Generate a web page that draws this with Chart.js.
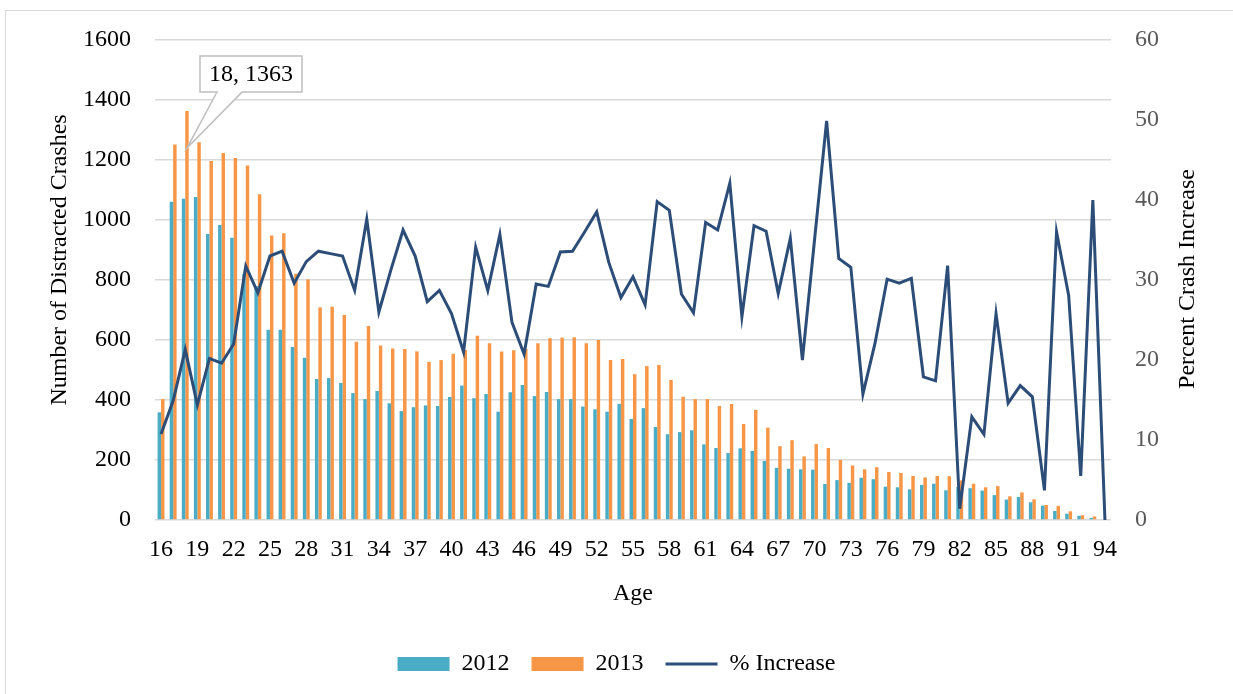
<!DOCTYPE html>
<html>
<head>
<meta charset="utf-8">
<script src="https://cdn.jsdelivr.net/npm/chart.js@4.4.1/dist/chart.umd.min.js"></script>
<style>
  html, body { margin: 0; padding: 0; background: #ffffff; overflow: hidden; }
  #wrap { position: relative; width: 1233px; height: 694px; }
  #frame { position: absolute; left: 5px; top: 10px; width: 1260px; height: 720px; border: 1px solid #d9d9d9; pointer-events: none; }
  canvas { position: absolute; left: 0; top: 0; }
</style>
</head>
<body>
<div id="wrap">
  <canvas id="c" width="1233" height="694"></canvas>
  <div id="frame"></div>
</div>
<script>
const ages = [16,17,18,19,20,21,22,23,24,25,26,27,28,29,30,31,32,33,34,35,36,37,38,39,40,41,42,43,44,45,46,47,48,49,50,51,52,53,54,55,56,57,58,59,60,61,62,63,64,65,66,67,68,69,70,71,72,73,74,75,76,77,78,79,80,81,82,83,84,85,86,87,88,89,90,91,92,93,94];

const crashes2012 = [359,1061,1071,1077,953,983,941,820,780,634,634,577,541,470,473,457,423,403,430,389,363,376,382,380,410,448,406,420,361,426,450,413,427,403,403,378,369,361,387,337,373,310,286,293,299,252,240,223,239,230,197,174,171,169,168,120,133,124,141,136,111,109,102,117,121,99,110,106,98,83,68,77,59,48,30,21,14,7,0];

const crashes2013 = [403,1252,1363,1259,1197,1223,1207,1182,1086,948,956,821,802,709,711,683,594,647,582,572,570,562,527,533,554,567,614,589,562,566,570,589,606,608,609,589,600,533,537,486,513,517,467,411,403,403,380,387,320,367,308,246,266,212,253,240,200,182,169,176,160,157,147,142,147,146,132,121,109,113,79,92,69,50,47,29,16,12,0];

const pctIncrease = [10.75,14.9,21.3,14.4,20.2,19.6,22.0,31.75,28.4,33.0,33.6,29.6,32.3,33.6,33.3,33.0,28.7,37.6,26.0,31.3,36.25,33.0,27.3,28.7,25.8,21.0,34.1,28.7,35.7,24.7,20.75,29.5,29.2,33.5,33.6,36.0,38.5,32.2,27.8,30.4,26.9,39.8,38.7,28.25,25.9,37.2,36.25,42.1,25.4,36.8,36.1,28.3,35.2,20.0,35.0,49.9,32.7,31.6,15.75,22.1,30.1,29.6,30.2,17.9,17.4,31.8,1.4,12.9,10.7,25.8,14.6,16.8,15.4,3.7,36.0,28.1,5.5,40.0,0];

const shownAgeTicks = [16,19,22,25,28,31,34,37,40,43,46,49,52,55,58,61,64,67,70,73,76,79,82,85,88,91,94];
const leftTicks = [0,200,400,600,800,1000,1200,1400,1600];
const rightTicks = [0,10,20,30,40,50,60];

const seriesNames = ['2012', '2013', '% Increase'];
const leftTitle = 'Number of Distracted Crashes';
const rightTitle = 'Percent Crash Increase';
const xTitle = 'Age';
const calloutAge = 18;
const calloutText = '18, 1363';

const FONT = "'Liberation Serif', 'Times New Roman', serif";
Chart.defaults.font.family = FONT;
Chart.defaults.font.size = 24;
Chart.defaults.color = '#000000';

const extraText = {
  id: 'extraText',
  afterDatasetsDraw(chart) {
    const ctx = chart.ctx;
    const idx = ages.indexOf(calloutAge);
    const el = chart.getDatasetMeta(1).data[idx];
    const tipX = el.x, tipY = el.y + 37;
    const bl = tipX + 13, bt = tipY - 92, br = tipX + 115, bb = tipY - 56;
    ctx.save();
    ctx.beginPath();
    ctx.moveTo(bl, bt);
    ctx.lineTo(br, bt);
    ctx.lineTo(br, bb);
    ctx.lineTo(tipX + 55, bb);
    ctx.lineTo(tipX, tipY);
    ctx.lineTo(tipX + 30, bb);
    ctx.lineTo(bl, bb);
    ctx.closePath();
    ctx.fillStyle = '#ffffff';
    ctx.fill();
    ctx.strokeStyle = '#bfbfbf';
    ctx.lineWidth = 1.5;
    ctx.stroke();
    ctx.fillStyle = '#000000';
    ctx.font = '24px ' + FONT;
    ctx.textAlign = 'center';
    ctx.textBaseline = 'middle';
    ctx.fillText(calloutText, (bl + br) / 2, (bt + bb) / 2 + 1);
    ctx.restore();
  },
  afterDraw(chart) {
    const ctx = chart.ctx;
    ctx.save();
    ctx.font = '24px ' + FONT;
    ctx.fillStyle = '#000000';
    ctx.textAlign = 'center';
    ctx.textBaseline = 'middle';
    ctx.translate(60, 260);
    ctx.rotate(-Math.PI / 2);
    ctx.fillText(leftTitle, 0, 0);
    ctx.restore();
    ctx.save();
    ctx.font = '24px ' + FONT;
    ctx.fillStyle = '#000000';
    ctx.textAlign = 'center';
    ctx.textBaseline = 'middle';
    ctx.translate(1188, 279);
    ctx.rotate(-Math.PI / 2);
    ctx.fillText(rightTitle, 0, 0);
    ctx.restore();
  }
};

new Chart(document.getElementById('c'), {
  data: {
    labels: ages,
    datasets: [
      { type: 'bar', label: seriesNames[0], data: crashes2012, backgroundColor: '#4bacc6', yAxisID: 'y', order: 1, pointStyle: 'rect',
        barPercentage: 1.0, categoryPercentage: 0.57 },
      { type: 'bar', label: seriesNames[1], data: crashes2013, backgroundColor: '#f79646', yAxisID: 'y', order: 1, pointStyle: 'rect',
        barPercentage: 1.0, categoryPercentage: 0.57 },
      { type: 'line', label: seriesNames[2], data: pctIncrease, borderColor: '#2c4d78', backgroundColor: '#2c4d78', borderWidth: 3,
        pointRadius: 0, tension: 0, yAxisID: 'y1', order: 0, pointStyle: 'line' }
    ]
  },
  options: {
    responsive: false,
    animation: false,
    devicePixelRatio: 1,
    layout: { padding: { top: 40, left: 0, right: 0, bottom: 8 } },
    plugins: {
      tooltip: { enabled: false },
      legend: {
        position: 'bottom',
        labels: {
          usePointStyle: true,
          pointStyleWidth: 52,
          boxHeight: 14,
          padding: 22,
          color: '#000000',
          font: { size: 24, family: FONT },
          sort: (a, b) => a.datasetIndex - b.datasetIndex
        }
      }
    },
    scales: {
      x: {
        offset: true,
        grid: { display: false, drawTicks: false },
        border: { display: false },
        ticks: {
          autoSkip: false, maxRotation: 0, minRotation: 0, padding: 15, color: '#000000',
          font: { size: 24 },
          callback: function (v) { const a = ages[v]; return shownAgeTicks.includes(a) ? String(a) : ''; }
        },
        title: { display: true, text: xTitle, color: '#000000', font: { size: 24 }, padding: { top: 0, bottom: 22 } },
        afterFit: s => { s.height = 110; }
      },
      y: {
        position: 'left',
        min: 0, max: 1600,
        afterBuildTicks: s => { s.ticks = leftTicks.map(v => ({ value: v })); },
        grid: { color: '#d9d9d9', lineWidth: 1.5, drawTicks: false },
        border: { display: false },
        ticks: { padding: 24, color: '#000000', font: { size: 24 }, callback: v => String(v) },
        afterFit: s => { s.width = 155; }
      },
      y1: {
        position: 'right',
        min: 0, max: 60,
        afterBuildTicks: s => { s.ticks = rightTicks.map(v => ({ value: v })); },
        grid: { display: false, drawTicks: false },
        border: { display: false },
        ticks: { padding: 24, color: '#595959', font: { size: 24 }, callback: v => String(v) },
        afterFit: s => { s.width = 122; }
      }
    }
  },
  plugins: [extraText]
});
</script>
</body>
</html>
